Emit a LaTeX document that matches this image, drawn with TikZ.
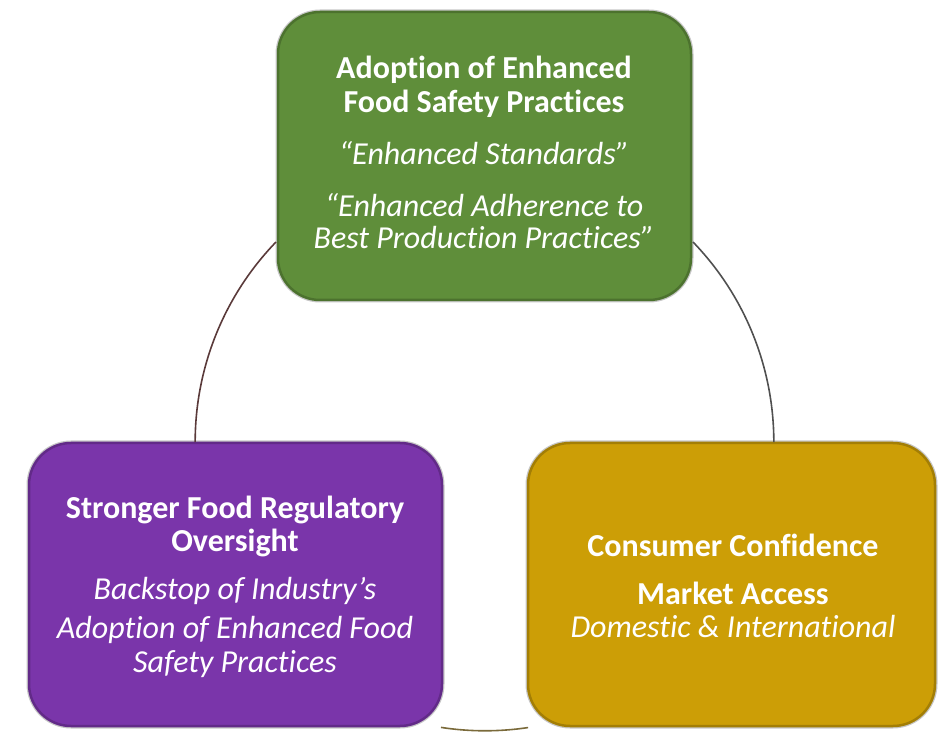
\documentclass[tikz,border=0pt]{standalone}
\usepackage{fontspec}
\setmainfont[Ligatures=NoCommon]{Carlito}
\usetikzlibrary{calc}
\definecolor{boxgreen}{HTML}{5F8E3A}
\definecolor{boxpurple}{HTML}{7A35AA}
\definecolor{boxgold}{HTML}{CC9E06}
\definecolor{arcleft}{HTML}{5A3A3A}
\definecolor{arcright}{HTML}{505050}
\definecolor{arcbottom}{HTML}{7A6A3A}
\tikzset{
  tile/.style={rounded corners=42pt, inner sep=0pt, line width=2.5pt,
    preaction={draw=black!22, line width=5pt}},
  title/.style={text=white, font=\fontsize{32}{38}\selectfont\bfseries, inner sep=0pt},
  sub/.style={text=white, font=\fontsize{32}{38}\selectfont\itshape, inner sep=0pt},
  link/.style={line width=1.6pt},
}
\begin{document}
\begin{tikzpicture}[x=1pt,y=1pt]
\useasboundingbox (0,0) rectangle (938,732);
% boxes
\node[tile, fill=boxgreen, draw=boxgreen!80!black, minimum width=413pt, minimum height=288pt] (green) at (484.5,576) {};
\node[tile, fill=boxpurple, draw=boxpurple!80!black, minimum width=413pt, minimum height=283pt] (purple) at (235.5,147.5) {};
\node[tile, fill=boxgold, draw=boxgold!80!black, minimum width=407pt, minimum height=283pt] (gold) at (731.5,147.5) {};
% connectors
\coordinate (c1) at (276,490);
\coordinate (c2) at (693,490);
\coordinate (c3) at (441,4.6);
\draw[link, arcleft] (c1) arc[start angle=136, end angle=180, radius=288pt] coordinate (c1e);
\draw[link, arcright] (c2) arc[start angle=44, end angle=0, radius=288pt] coordinate (c2e);
\draw[link, arcbottom] (c3) arc[start angle=261.2, end angle=278.6, radius=288pt] coordinate (c3e);
% green texts
\node[title] (g1) at (484,662) {Adoption of Enhanced};
\node[title] (g2) at (484,628) {Food Safety Practices};
\node[sub] (g3) at (484,579) {“Enhanced Standards”};
\node[sub] (g4) at (484,527) {“Enhanced Adherence to};
\node[sub] (g5) at (484,494) {Best Production Practices”};
% purple texts
\node[title] (p1) at (235,222) {Stronger Food Regulatory};
\node[title] (p2) at (235,189) {Oversight};
\node[sub] (p3) at (235,141) {Backstop of Industry’s};
\node[sub] (p4) at (235,102) {Adoption of Enhanced Food};
\node[sub] (p5) at (235,68) {Safety Practices};
% gold texts
\node[title] (o1) at (733,187) {Consumer Confidence};
\node[title] (o2) at (733,139) {Market Access};
\node[sub] (o3) at (733,105) {Domestic \& International};
\end{tikzpicture}
\end{document}
